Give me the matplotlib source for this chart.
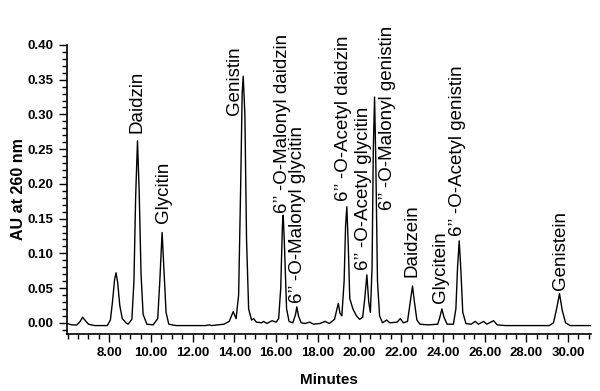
import matplotlib
matplotlib.use("Agg")
import matplotlib.pyplot as plt
from matplotlib.ticker import MultipleLocator, FixedLocator

plt.rcParams['font.family'] = ['Liberation Sans', 'DejaVu Sans']

# chromatogram trace (minutes, AU)
minutes = [5.97, 6.2, 6.45, 6.6, 6.72, 6.85, 7.0, 7.3, 7.9,
           8.05, 8.15, 8.25, 8.32, 8.40, 8.50, 8.62, 8.8, 8.9,
           9.08, 9.18, 9.26, 9.35, 9.43, 9.52, 9.62, 9.8, 10.1,
           10.32, 10.42, 10.53, 10.62, 10.72, 10.85, 11.2, 12.0, 12.6,
           12.8, 12.9, 13.2, 13.5, 13.75, 13.94, 14.08, 14.2, 14.3,
           14.37, 14.42, 14.50, 14.58, 14.68, 14.82, 14.92, 15.05, 15.3,
           15.4, 15.55, 15.8, 16.0, 16.12, 16.22, 16.30, 16.34, 16.40,
           16.50, 16.62, 16.80, 16.93, 16.99, 17.07, 17.2, 17.4, 17.6,
           17.8, 18.1, 18.35, 18.55, 18.8, 18.92, 18.98, 19.06, 19.15,
           19.26, 19.33, 19.39, 19.46, 19.53, 19.58, 19.68, 19.85, 20.0,
           20.15, 20.25, 20.35, 20.44, 20.52, 20.60, 20.66, 20.72, 20.78,
           20.86, 20.96, 21.1, 21.3, 21.45, 21.8, 21.95, 22.1, 22.3,
           22.43, 22.54, 22.64, 22.75, 22.9, 23.3, 23.75, 23.85, 23.95,
           24.05, 24.2, 24.5, 24.62, 24.70, 24.78, 24.86, 24.95, 25.1,
           25.35, 25.55, 25.7, 25.95, 26.1, 26.43, 26.6, 27.0, 28.0,
           29.1, 29.3, 29.45, 29.59, 29.72, 29.88, 30.1, 31.07]
au = [-0.001, -0.003, -0.003, 0.002, 0.008, 0.003, -0.002, -0.004, -0.004,
      0.004, 0.030, 0.062, 0.072, 0.058, 0.025, 0.006, 0.000, -0.002,
      0.005, 0.060, 0.180, 0.262, 0.190, 0.070, 0.012, -0.002, -0.003,
      0.006, 0.060, 0.130, 0.075, 0.015, -0.002, -0.004, -0.004, -0.004,
      -0.003, -0.004, -0.003, -0.002, 0.002, 0.016, 0.006, 0.040, 0.200,
      0.330, 0.355, 0.300, 0.120, 0.020, 0.004, 0.006, 0.001, 0.000,
      0.002, -0.001, 0.003, 0.001, 0.006, 0.050, 0.140, 0.155, 0.110,
      0.020, 0.002, 0.000, 0.012, 0.023, 0.010, 0.000, -0.001, 0.001,
      -0.002, -0.001, 0.002, -0.001, 0.005, 0.020, 0.028, 0.014, 0.010,
      0.060, 0.140, 0.167, 0.110, 0.035, 0.030, 0.020, 0.010, 0.005,
      0.008, 0.035, 0.069, 0.030, 0.015, 0.080, 0.250, 0.325, 0.230,
      0.060, 0.010, 0.000, 0.004, 0.000, 0.001, 0.006, 0.000, 0.002,
      0.030, 0.053, 0.028, 0.004, -0.002, -0.003, -0.002, 0.008, 0.020,
      0.008, -0.002, -0.002, 0.020, 0.080, 0.118, 0.075, 0.015, -0.001,
      -0.002, 0.002, -0.002, 0.002, -0.002, 0.003, -0.003, -0.004, -0.004,
      -0.004, 0.000, 0.020, 0.042, 0.018, 0.000, -0.004, -0.004]

# peak names and where their labels sit
peak_names = ['Daidzin', 'Glycitin', 'Genistin',
              '6\u2019\u2019 -O-Malonyl daidzin', '6\u2019\u2019 -O-Malonyl glycitin',
              '6\u2019\u2019 -O-Acetyl daidzin', '6\u2019\u2019 -O-Acetyl glycitin',
              '6\u2019\u2019 -O-Malonyl genistin', 'Daidzein', 'Glycitein',
              '6\u2019\u2019 -O-Acetyl genistin', 'Genistein']
label_x = [9.35, 10.58, 14.02, 16.30, 17.04, 19.22, 20.19, 21.33, 22.52, 23.87, 24.7, 29.62]
label_y = [0.273, 0.144, 0.299, 0.158, 0.029, 0.175, 0.076, 0.163, 0.066, 0.029, 0.125, 0.047]

fig = plt.figure(figsize=(6, 3.91), dpi=100)
ax = fig.add_axes([0.111, 0.146, 0.874, 0.739])
ax.plot(minutes, au, color='black', linewidth=1.0)

for name, x, y in zip(peak_names, label_x, label_y):
    ax.text(x, y, name, rotation=90, ha='center', va='bottom', fontsize=13.5)

ax.set_xlim(5.95, 31.1)
ax.set_ylim(-0.016, 0.40)
ax.spines['top'].set_visible(False)
ax.spines['right'].set_visible(False)
ax.spines['left'].set_linewidth(1.2)
ax.spines['bottom'].set_linewidth(1.2)

ax.xaxis.set_major_locator(FixedLocator([8, 10, 12, 14, 16, 18, 20, 22, 24, 26, 28, 30]))
ax.xaxis.set_minor_locator(MultipleLocator(0.5))
ax.yaxis.set_major_locator(MultipleLocator(0.05))
ax.yaxis.set_minor_locator(MultipleLocator(0.01))
ax.xaxis.set_major_formatter(lambda v, p: f"{v:.2f}")
ax.yaxis.set_major_formatter(lambda v, p: f"{v:.2f}")
ax.tick_params(which='major', length=6, width=1.0, labelsize=9.5)
ax.tick_params(which='minor', length=3.5, width=1.0)
for lab in ax.get_xticklabels() + ax.get_yticklabels():
    lab.set_fontweight('bold')

ax.set_xlabel('Minutes', fontsize=11, fontweight='bold', labelpad=10)
ax.set_ylabel('AU at 260 nm', fontsize=11.5, fontweight='bold', labelpad=1)

fig.savefig('out.png', dpi=100)
